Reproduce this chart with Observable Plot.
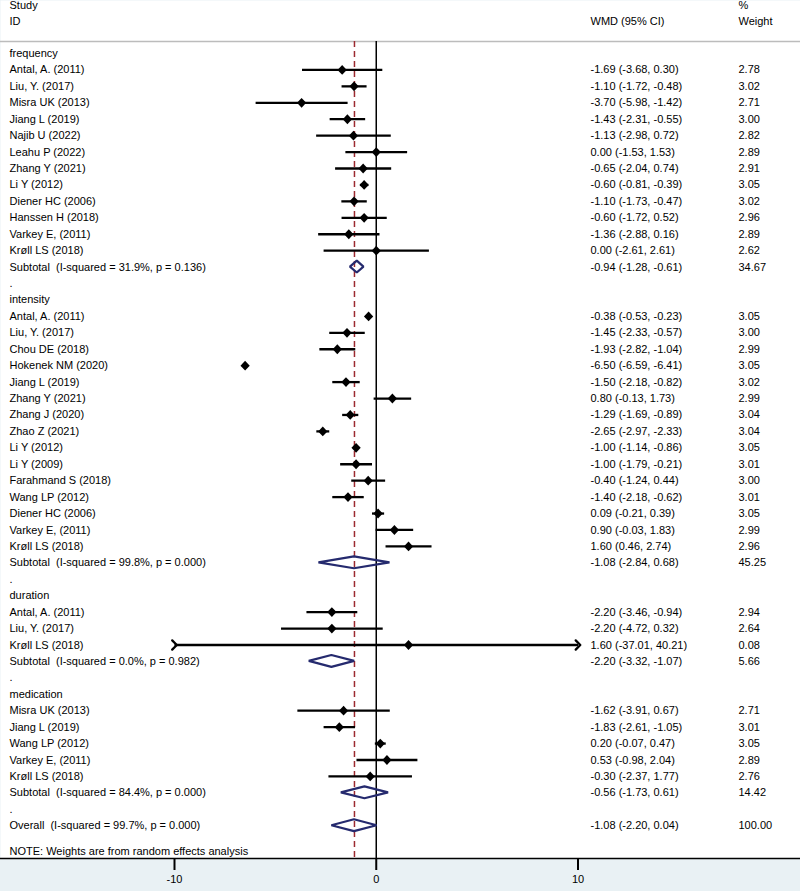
<!DOCTYPE html>
<html>
<head>
<meta charset="utf-8">
<script src="https://cdn.jsdelivr.net/npm/d3@7"></script>
<script src="https://cdn.jsdelivr.net/npm/@observablehq/plot@0.6"></script>
<style>
  body { margin: 0; background: #fff; }
  svg text { white-space: pre; }
</style>
</head>
<body>
<div id="chart"></div>
<script>
// ---------- data ----------
const groupNames = ["frequency", "intensity", "duration", "medication"];
const groupSizes = [12, 15, 3, 5];

const studyNames = [
  "Antal, A. (2011)", "Liu, Y. (2017)", "Misra UK (2013)", "Jiang L (2019)", "Najib U (2022)", "Leahu P (2022)",
  "Zhang Y (2021)", "Li Y (2012)", "Diener HC (2006)", "Hanssen H (2018)", "Varkey E, (2011)", "Krøll LS (2018)",
  "Antal, A. (2011)", "Liu, Y. (2017)", "Chou DE (2018)", "Hokenek NM (2020)", "Jiang L (2019)", "Zhang Y (2021)",
  "Zhang J (2020)", "Zhao Z (2021)", "Li Y (2012)", "Li Y (2009)", "Farahmand S (2018)", "Wang LP (2012)",
  "Diener HC (2006)", "Varkey E, (2011)", "Krøll LS (2018)",
  "Antal, A. (2011)", "Liu, Y. (2017)", "Krøll LS (2018)",
  "Misra UK (2013)", "Jiang L (2019)", "Wang LP (2012)", "Varkey E, (2011)", "Krøll LS (2018)"
];
const studyWMD = [
  -1.69, -1.10, -3.70, -1.43, -1.13, 0.00, -0.65, -0.60, -1.10, -0.60, -1.36, 0.00,
  -0.38, -1.45, -1.93, -6.50, -1.50, 0.80, -1.29, -2.65, -1.00, -1.00, -0.40, -1.40, 0.09, 0.90, 1.60,
  -2.20, -2.20, 1.60,
  -1.62, -1.83, 0.20, 0.53, -0.30
];
const studyLow = [
  -3.68, -1.72, -5.98, -2.31, -2.98, -1.53, -2.04, -0.81, -1.73, -1.72, -2.88, -2.61,
  -0.53, -2.33, -2.82, -6.59, -2.18, -0.13, -1.69, -2.97, -1.14, -1.79, -1.24, -2.18, -0.21, -0.03, 0.46,
  -3.46, -4.72, -37.01,
  -3.91, -2.61, -0.07, -0.98, -2.37
];
const studyHigh = [
  0.30, -0.48, -1.42, -0.55, 0.72, 1.53, 0.74, -0.39, -0.47, 0.52, 0.16, 2.61,
  -0.23, -0.57, -1.04, -6.41, -0.82, 1.73, -0.89, -2.33, -0.86, -0.21, 0.44, -0.62, 0.39, 1.83, 2.74,
  -0.94, 0.32, 40.21,
  0.67, -1.05, 0.47, 2.04, 1.77
];
const studyWeight = [
  2.78, 3.02, 2.71, 3.00, 2.82, 2.89, 2.91, 3.05, 3.02, 2.96, 2.89, 2.62,
  3.05, 3.00, 2.99, 3.05, 3.02, 2.99, 3.04, 3.04, 3.05, 3.01, 3.00, 3.01, 3.05, 2.99, 2.96,
  2.94, 2.64, 0.08,
  2.71, 3.01, 3.05, 2.89, 2.76
];

const subtotalI2 = [31.9, 99.8, 0.0, 84.4];
const subtotalP = ["0.136", "0.000", "0.982", "0.000"];
const subtotalWMD = [-0.94, -1.08, -2.20, -0.56];
const subtotalLow = [-1.28, -2.84, -3.32, -1.73];
const subtotalHigh = [-0.61, 0.68, -1.07, 0.61];
const subtotalWeight = [34.67, 45.25, 5.66, 14.42];

const overallI2 = 99.7;
const overallP = "0.000";
const overallWMD = -1.08;
const overallLow = -2.20;
const overallHigh = 0.04;
const overallWeight = 100.00;

const xTicks = [-10, 0, 10];
const xTickLabels = ["-10", "0", "10"];
const xLimits = [-10, 10];
const noteText = "NOTE: Weights are from random effects analysis";

// ---------- layout (rows) ----------
const rowStep = 16.43, firstRowPx = 53, frameBottomPx = 858, H = 891, W = 800;
const yTop = -firstRowPx / rowStep;
const yBottom = (frameBottomPx - firstRowPx) / rowStep;
const sepRow = (41 - firstRowPx) / rowStep;
const header1Row = (5 - firstRowPx) / rowStep;
const header2Row = (21 - firstRowPx) / rowStep;
const noteRow = (851 - firstRowPx) / rowStep;
const pxPerUnit = 20.175, zeroPx = 375.75;
const xDomain = [-zeroPx / pxPerUnit, (W - zeroPx) / pxPerUnit];

const f2 = v => v.toFixed(2);
const rows = [];
let r = 0, k = 0;
groupNames.forEach((g, gi) => {
  rows.push({row: r++, kind: "group", label: g});
  for (let j = 0; j < groupSizes[gi]; j++, k++) {
    rows.push({row: r++, kind: "study", label: studyNames[k], est: studyWMD[k], lo: studyLow[k], hi: studyHigh[k], w: studyWeight[k]});
  }
  rows.push({row: r++, kind: "subtotal", label: `Subtotal  (I-squared = ${subtotalI2[gi].toFixed(1)}%, p = ${subtotalP[gi]})`,
    est: subtotalWMD[gi], lo: subtotalLow[gi], hi: subtotalHigh[gi], w: subtotalWeight[gi]});
  rows.push({row: r++, kind: "spacer", label: "."});
});
rows.push({row: r++, kind: "overall", label: `Overall  (I-squared = ${overallI2.toFixed(1)}%, p = ${overallP})`,
  est: overallWMD, lo: overallLow, hi: overallHigh, w: overallWeight});

const studies = rows.filter(d => d.kind === "study").map(d => ({
  ...d,
  x1: Math.max(d.lo, xLimits[0]), x2: Math.min(d.hi, xLimits[1]),
  clipLo: d.lo < xLimits[0], clipHi: d.hi > xLimits[1]
}));
const pooled = rows.filter(d => d.kind === "subtotal" || d.kind === "overall");
const half = 0.36;
const diamondPts = pooled.flatMap((d, i) => [
  {id: i, x: d.lo, y1: d.row, y2: d.row},
  {id: i, x: d.est, y1: d.row - half, y2: d.row + half},
  {id: i, x: d.hi, y1: d.row, y2: d.row}
]);
const numeric = rows.filter(d => d.est !== undefined);
const headers = [
  {row: header1Row, text: "Study", col: 0},
  {row: header2Row, text: "ID", col: 0},
  {row: header2Row, text: "WMD (95% CI)", col: 1},
  {row: header1Row, text: "%", col: 2},
  {row: header2Row, text: "Weight", col: 2}
];
const colDx = [9, 590, 738];

const squareDiamond = {
  draw(ctx, size) {
    const h = Math.sqrt(size / 2);
    ctx.moveTo(0, -h * 1.06); ctx.lineTo(h, 0); ctx.lineTo(0, h * 1.06); ctx.lineTo(-h, 0); ctx.closePath();
  }
};

const navy = "#252a6e";
const maroon = "#9c2a30";

const chart = Plot.plot({
  width: W, height: H,
  marginLeft: 0, marginRight: 0, marginTop: 0, marginBottom: H - frameBottomPx,
  style: {fontFamily: "'Liberation Sans', Arial, Helvetica, sans-serif", fontSize: "11px", background: "#e9f1f4", color: "black"},
  x: {domain: xDomain, label: null},
  y: {domain: [yTop, yBottom], range: [0, frameBottomPx], axis: null},
  marks: [
    Plot.frame({fill: "white", stroke: "none"}),
    Plot.ruleY([sepRow], {stroke: "#bcbcbc", strokeWidth: 1.5}),
    Plot.ruleX([0], {y1: sepRow, y2: yBottom, stroke: "black", strokeWidth: 1.5}),
    Plot.ruleX([overallWMD], {y1: sepRow, y2: yBottom, stroke: maroon, strokeWidth: 1.5, strokeDasharray: "6,4"}),
    Plot.link(studies.filter(d => !d.clipLo && !d.clipHi), {x1: "x1", x2: "x2", y1: "row", y2: "row", stroke: "black", strokeWidth: 2.3}),
    Plot.link(studies.filter(d => d.clipLo && d.clipHi), {x1: "x1", x2: "x2", y1: "row", y2: "row", stroke: "black", strokeWidth: 2.3, markerStart: "arrow", markerEnd: "arrow"}),
    Plot.link(studies.filter(d => d.clipLo && !d.clipHi), {x1: "x1", x2: "x2", y1: "row", y2: "row", stroke: "black", strokeWidth: 2.3, markerStart: "arrow"}),
    Plot.link(studies.filter(d => !d.clipLo && d.clipHi), {x1: "x1", x2: "x2", y1: "row", y2: "row", stroke: "black", strokeWidth: 2.3, markerEnd: "arrow"}),
    Plot.dot(studies, {x: "est", y: "row", symbol: squareDiamond, r: 3.7, fill: "black", stroke: "none"}),
    Plot.areaY(diamondPts, {x: "x", y1: "y1", y2: "y2", z: "id", fill: "none", stroke: navy, strokeWidth: 2.2, strokeLinejoin: "miter"}),
    Plot.text(rows, {y: "row", text: "label", frameAnchor: "left", textAnchor: "start", dx: colDx[0], fill: "black"}),
    Plot.text(numeric, {y: "row", text: d => `${f2(d.est)} (${f2(d.lo)}, ${f2(d.hi)})`, frameAnchor: "left", textAnchor: "start", dx: colDx[1], fill: "black"}),
    Plot.text(numeric, {y: "row", text: d => f2(d.w), frameAnchor: "left", textAnchor: "start", dx: colDx[2], fill: "black"}),
    ...[0, 1, 2].map(c => Plot.text(headers.filter(h => h.col === c), {y: "row", text: "text", frameAnchor: "left", textAnchor: "start", dx: colDx[c], fill: "black"})),
    Plot.text([noteText], {y: [noteRow], text: d => d, frameAnchor: "left", textAnchor: "start", dx: colDx[0], fill: "black"}),
    Plot.ruleY([yBottom], {stroke: "black", strokeWidth: 1.5}),
    Plot.axisX(xTicks, {tickSize: 12, tickPadding: 5, strokeWidth: 2, fontSize: 11, label: null, anchor: "bottom",
      tickFormat: d => xTickLabels[xTicks.indexOf(d)]})
  ]
});
document.getElementById("chart").appendChild(chart);
</script>
</body>
</html>
